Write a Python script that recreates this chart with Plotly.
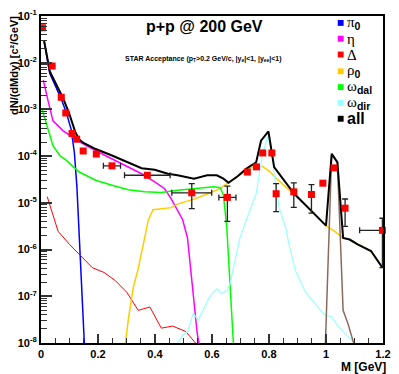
import plotly.graph_objects as go

# ---------------- data ----------------
pi0_M = [0.011, 0.031, 0.071, 0.089, 0.106, 0.117, 0.126, 0.134, 0.142, 0.152]
pi0_y = [2.9e-2, 5.9e-3, 1.67e-3, 8.5e-4, 3.7e-4, 1.21e-4, 2.2e-5, 2.46e-6, 2.16e-7, 1.0e-8]

eta_M = [0.008, 0.020, 0.025, 0.042, 0.077, 0.111, 0.158, 0.215, 0.261, 0.307, 0.353,
         0.399, 0.433, 0.456, 0.479, 0.497, 0.514, 0.525, 0.537, 0.548, 0.554]
eta_y = [4.3e-3, 1.91e-3, 1.50e-3, 5.7e-4, 3.53e-4, 2.51e-4, 1.68e-4, 1.11e-4, 8.1e-5, 5.8e-5, 4.2e-5,
         2.8e-5, 2.03e-5, 1.25e-5, 7.1e-6, 4.35e-6, 1.78e-6, 3.5e-7, 8.1e-8, 1.64e-8, 1.0e-8]

delta_M = [0.022, 0.060, 0.100, 0.134, 0.180, 0.221, 0.261, 0.301, 0.341, 0.382, 0.422, 0.462, 0.508, 0.542]
delta_y = [1.35e-5, 2.46e-6, 1.29e-6, 7.9e-7, 4.1e-7, 3.24e-7, 2.16e-7, 1.22e-7, 5.0e-8, 5.9e-8,
           2.08e-8, 2.3e-8, 1.76e-8, 1.0e-8]

rho_M = [0.296, 0.307, 0.324, 0.341, 0.359, 0.376, 0.393, 0.422, 0.456, 0.479, 0.537, 0.594, 0.629,
         0.652, 0.686, 0.721, 0.755, 0.778, 0.801, 0.824, 0.884, 0.945, 1.0, 1.031, 1.060, 1.083,
         1.111, 1.158, 1.198]
rho_y = [1.0e-8, 3.4e-8, 1.56e-7, 3.9e-7, 1.29e-6, 4.2e-6, 7.1e-6, 7.4e-6, 7.9e-6, 9.4e-6, 1.20e-5,
         1.64e-5, 2.03e-5, 2.58e-5, 3.58e-5, 4.96e-5, 6.4e-5, 5.97e-5, 4.8e-5, 3.41e-5, 1.60e-5,
         7.1e-6, 3.2e-6, 2.46e-6, 1.78e-6, 1.64e-6, 1.29e-6, 9.3e-7, 4.1e-7]

omd_M = [0.003, 0.010, 0.024, 0.042, 0.066, 0.089, 0.134, 0.192, 0.249, 0.307, 0.364, 0.422, 0.479,
         0.537, 0.606, 0.629, 0.640, 0.652, 0.663, 0.675]
omd_y = [1.05e-3, 7.5e-4, 3.7e-4, 1.67e-4, 1.03e-4, 8.1e-5, 4.57e-5, 3.05e-5, 2.39e-5, 1.90e-5,
         1.72e-5, 1.67e-5, 1.87e-5, 2.03e-5, 2.2e-5, 2.1e-5, 1.47e-5, 2.9e-6, 2.5e-7, 1.0e-8]

omr_M = [0.479, 0.497, 0.514, 0.534, 0.552, 0.571, 0.589, 0.600, 0.617, 0.634, 0.652, 0.663, 0.680,
         0.698, 0.721, 0.744, 0.755, 0.767, 0.778, 0.796, 0.810, 0.818, 0.836, 0.859, 0.870, 0.893,
         0.928, 0.962, 0.997, 1.020, 1.042, 1.066, 1.100]
omr_y = [1.0e-8, 1.48e-8, 1.72e-8, 4.3e-8, 3.1e-8, 5.5e-8, 9.0e-8, 1.13e-7, 1.44e-7, 1.13e-7, 1.33e-7,
         1.84e-7, 5.7e-7, 1.78e-6, 4.4e-6, 1.06e-5, 1.57e-5, 4.57e-5, 1.11e-4, 2.77e-4, 1.21e-4,
         4.1e-5, 7.7e-6, 2.9e-6, 1.29e-6, 3.5e-7, 1.22e-7, 6.9e-8, 3.9e-8, 3.7e-8, 2.3e-8, 1.61e-8, 1.0e-8]

phi_M = [0.998, 1.020, 1.040, 1.060, 1.077, 1.097]
phi_y = [1.0e-8, 1.11e-4, 7.4e-5, 5.0e-8, 2.6e-8, 1.0e-8]

all_M = [0.011, 0.031, 0.077, 0.098, 0.121, 0.134, 0.146, 0.192, 0.249, 0.307, 0.353, 0.399, 0.445,
         0.479, 0.537, 0.583, 0.617, 0.640, 0.658, 0.690, 0.721, 0.755, 0.772, 0.798, 0.818, 0.887,
         0.951, 1.000, 1.020, 1.040, 1.060, 1.083, 1.111, 1.158, 1.198]
all_y = [2.9e-2, 6.5e-3, 1.76e-3, 8.5e-4, 3.2e-4, 2.3e-4, 1.97e-4, 1.42e-4, 1.03e-4, 7.4e-5, 5.5e-5,
         5.1e-5, 4.2e-5, 3.9e-5, 3.3e-5, 3.9e-5, 3.9e-5, 3.3e-5, 2.7e-5, 3.7e-5, 5.4e-5, 7.4e-5,
         2.14e-4, 3.4e-4, 5.8e-5, 1.6e-5, 6.5e-6, 3.25e-6, 1.12e-4, 7.4e-5, 1.78e-6, 1.64e-6, 1.29e-6,
         9.3e-7, 4.1e-7]

# measured points
pts_M = [0.005, 0.039, 0.071, 0.087, 0.109, 0.125, 0.148, 0.194, 0.249, 0.373, 0.529, 0.654, 0.724,
         0.756, 0.778, 0.810, 0.825, 0.887, 0.949, 0.989, 1.028, 1.067, 1.198]
pts_y = [5.6e-2, 8.5e-3, 1.82e-3, 8.4e-4, 3.05e-4, 2.31e-4, 1.29e-4, 1.11e-4, 6.2e-5, 3.9e-5, 1.64e-5,
         1.31e-5, 4.57e-5, 5.9e-5, 1.17e-4, 1.17e-4, 1.57e-5, 1.72e-5, 1.51e-5, 2.64e-5, 5.6e-5,
         7.7e-6, 2.58e-6]
pts_xerr = [0, 0, 0, 0, 0, 0, 0, 0, 0.03, 0.08, 0.07, 0.03, 0, 0, 0, 0, 0, 0, 0, 0, 0, 0, 0.08]
pts_yerr_up = [0, 0, 0, 0, 0, 0, 0, 0, 0, 0, 0.94e-5, 0.97e-5, 0, 0, 0, 0, 1.01e-5, 0.95e-5, 0.95e-5,
               0, 0, 4.4e-6, 2.1e-6]
pts_yerr_dn = [0, 0, 0, 0, 0, 0, 0, 0, 0, 0, 0.89e-5, 0.91e-5, 0, 0, 0, 0, 0.92e-5, 0.92e-5, 0.91e-5,
               0, 0, 4.56e-6, 2.17e-6]

y_ticks = [1e-8, 1e-7, 1e-6, 1e-5, 1e-4, 1e-3, 1e-2, 1e-1]
y_ticktext = ["10<sup>-8</sup>", "10<sup>-7</sup>", "10<sup>-6</sup>", "10<sup>-5</sup>",
              "10<sup>-4</sup>", "10<sup>-3</sup>", "10<sup>-2</sup>", "10<sup>-1</sup>"]
x_ticks = [0, 0.2, 0.4, 0.6, 0.8, 1.0, 1.2]
x_ticktext = ["0", "0.2", "0.4", "0.6", "0.8", "1", "1.2"]

legend_labels = [
    '<span style="font-family:Liberation Serif">π</span><sub><b>0</b></sub>',
    '<span style="font-family:Liberation Serif">η</span>',
    '<span style="font-family:Liberation Serif">Δ</span>',
    '<span style="font-family:Liberation Serif">ρ</span><sub><b>0</b></sub>',
    '<span style="font-family:Liberation Serif">ω</span><sub><b>dal</b></sub>',
    '<span style="font-family:Liberation Serif">ω</span><sub><b>dir</b></sub>',
    '<b style="font-size:16px">all</b>',
]
legend_colors = ["#0000ff", "#ff00ff", "#ff0000", "#ffcc00", "#00ff00", "#99ffff", "#000000"]

# ---------------- figure ----------------
fig = go.Figure()

def add_curve(xs, ys, color, width):
    fig.add_trace(go.Scatter(x=xs, y=ys, mode="lines", line=dict(color=color, width=width),
                             hoverinfo="skip"))

add_curve(pi0_M, pi0_y, "#0000ff", 1.5)
add_curve(eta_M, eta_y, "#ff00ff", 1.5)
add_curve(delta_M, delta_y, "#ff0000", 1.0)
add_curve(rho_M, rho_y, "#ffcc00", 1.5)
add_curve(omd_M, omd_y, "#00ff00", 1.5)
add_curve(omr_M, omr_y, "#99ffff", 1.2)
add_curve(phi_M, phi_y, "#8c6a5a", 1.5)
add_curve(all_M, all_y, "#000000", 2.0)

fig.add_trace(go.Scatter(
    x=pts_M, y=pts_y, mode="markers", cliponaxis=False,
    marker=dict(symbol="square", size=7, color="#ff0000"),
    error_x=dict(type="data", array=pts_xerr, symmetric=True, color="#222222", thickness=1.3, width=3),
    error_y=dict(type="data", array=pts_yerr_up, arrayminus=pts_yerr_dn, symmetric=False,
                 color="#222222", thickness=1.3, width=3),
))

W, H = 399, 374
L, R, T, B = 41, 8, 12, 31
pw, ph = W - L - R, H - T - B

def px(x):
    return (x - L) / pw

def py(y):
    return (H - B - y) / ph

minor_y = [m * 10.0 ** e for e in range(-8, -1) for m in range(2, 10)]

fig.update_layout(
    width=W, height=H,
    margin=dict(l=L, r=R, t=T, b=B, pad=0),
    paper_bgcolor="white", plot_bgcolor="white",
    showlegend=False,
    font=dict(family="Liberation Sans", color="black"),
    xaxis=dict(range=[0, 1.2], showgrid=False, zeroline=False, showline=True, linecolor="black",
               linewidth=2, mirror=True, ticks="inside", ticklen=9, tickwidth=1.5, tickcolor="#333",
               tickvals=x_ticks, ticktext=x_ticktext,
               tickfont=dict(size=11, weight="bold"),
               minor=dict(ticks="inside", ticklen=5, tickwidth=1.2, tickcolor="#333", dtick=0.05,
                          showgrid=False)),
    yaxis=dict(type="log", range=[-8, -1], showgrid=False, zeroline=False, showline=True,
               linecolor="black", linewidth=2, mirror=True, ticks="inside", ticklen=11, tickwidth=1.5,
               tickcolor="#333", tickvals=y_ticks, ticktext=y_ticktext,
               tickfont=dict(size=11, weight="bold"),
               minor=dict(ticks="inside", ticklen=6, tickwidth=1.2, tickcolor="#333",
                          tickmode="array", tickvals=minor_y, showgrid=False)),
)

ann = []
ann.append(dict(text="<b>p+p @ 200 GeV</b>", x=px(208), y=py(23), xanchor="center", yanchor="middle",
                font=dict(size=16)))
ann.append(dict(text="<b>STAR Acceptance (p<sub>T</sub>&gt;0.2 GeV/c, |y<sub>e</sub>|&lt;1, "
                     "|y<sub>ee</sub>|&lt;1)</b>",
                x=px(125), y=py(56), xanchor="left", yanchor="middle", font=dict(size=7)))
ann.append(dict(text="<b>dN/(dMdy) [c²/GeV]</b>", x=px(14), y=py(62), textangle=-90,
                xanchor="center", yanchor="middle", font=dict(size=11)))
ann.append(dict(text="<b>M [GeV]</b>", x=px(396), y=py(367), xanchor="right", yanchor="middle",
                font=dict(size=12)))

leg_y = [19, 35, 51, 68, 84, 100, 116]
shapes = []
for lab, col, yy in zip(legend_labels, legend_colors, leg_y):
    shapes.append(dict(type="rect", xref="paper", yref="paper", x0=px(344.7), x1=px(350.7),
                       y0=py(yy + 3), y1=py(yy - 3), fillcolor=col, line=dict(width=0)))
    ann.append(dict(text=lab, x=px(352), y=py(yy), xanchor="left", yanchor="middle",
                    font=dict(size=15)))

for a in ann:
    a.update(xref="paper", yref="paper", showarrow=False)
fig.update_layout(annotations=ann, shapes=shapes)

fig.write_html("out.html")
